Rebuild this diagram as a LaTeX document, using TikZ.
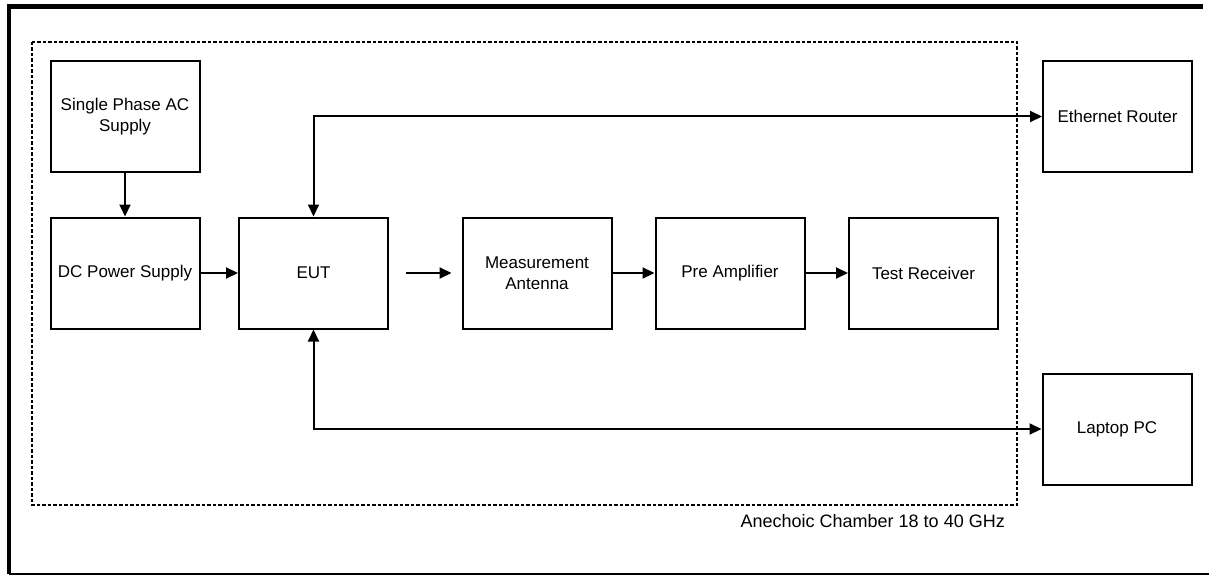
\documentclass[tikz,border=0pt]{standalone}
\usepackage{fontspec}
\setmainfont{Liberation Sans}
\usetikzlibrary{arrows.meta,calc}
\begin{document}
\begin{tikzpicture}[x=1pt,y=-1pt,
  blk/.style={draw,line width=2pt,minimum width=149pt,minimum height=111pt,align=center,font=\fontsize{17}{21}\selectfont,inner sep=0pt},
  conn/.style={line width=2pt,-{Triangle[length=12pt,width=11pt]}},
  bconn/.style={line width=2pt,{Triangle[length=12pt,width=11pt]}-{Triangle[length=12pt,width=11pt]}},
  chamber/.style={line width=2pt,dash pattern=on 3.5pt off 2pt},
  lbl/.style={font=\fontsize{18}{22}\selectfont,inner sep=0pt}]
\useasboundingbox (0,0) rectangle (1209,575);
% outer frame
\draw[line width=5pt] (7,6.5) -- (1203,6.5);
\draw[line width=4.5pt] (9,4) -- (9,574);
\draw[line width=1.5pt] (9,574) -- (1209,574);
% chamber
\draw[chamber] (32,42) rectangle (1017,505);
\node[lbl,anchor=base east] (chlbl) at (1005,527) {Anechoic Chamber 18 to 40 GHz};
% blocks
\node[blk] (ac) at (125,116.5) {Single Phase AC\\Supply};
\node[blk] (dc) at (125,273) {DC Power Supply};
\node[blk] (eut) at (313.5,273) {EUT};
\node[blk] (ant) at (537,273) {Measurement\\Antenna};
\node[blk] (pre) at (730,273) {Pre Amplifier};
\node[blk] (rx) at (923.5,273) {Test Receiver};
\node[blk] (router) at (1117.5,116.5) {Ethernet Router};
\node[blk] (laptop) at (1117,429) {Laptop PC};
% connectors
\draw[conn] (ac.south) -- (dc.north);
\draw[conn] (dc.east) -- (eut.west);
\coordinate (e1) at ($(eut.east)+(17,0)$);
\coordinate (e2) at ($(ant.west)+(-10,0)$);
\draw[conn] (e1) -- (e2);
\draw[conn] (ant.east) -- (pre.west);
\draw[conn] (pre.east) -- (rx.west);
\draw[bconn] (eut.north) |- (router.west);
\draw[bconn] (eut.south) |- (laptop.west);
\end{tikzpicture}
\end{document}
